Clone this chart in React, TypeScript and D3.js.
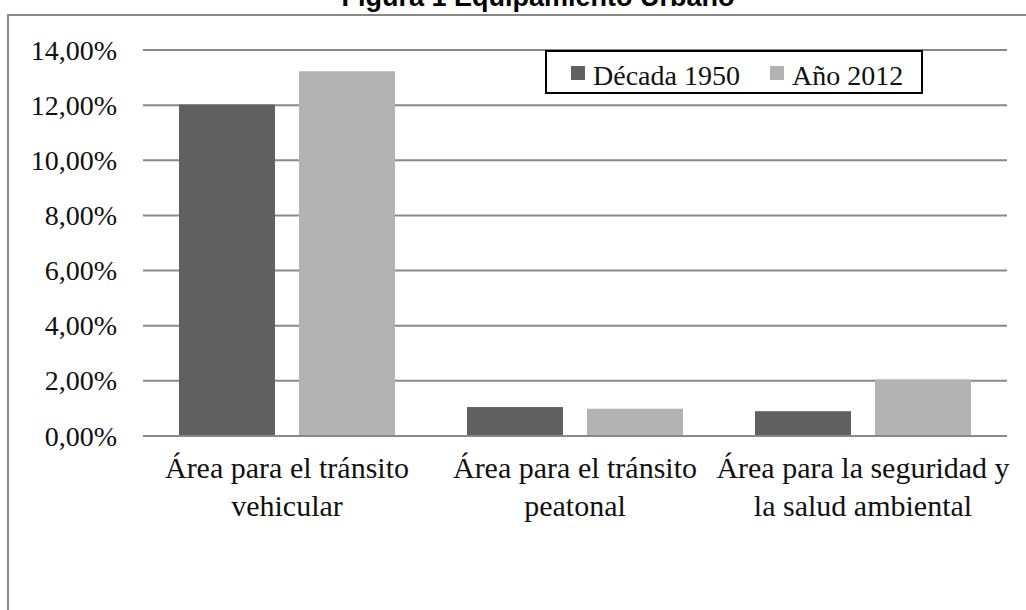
import * as d3 from 'd3'

const categories = ['vehicular', 'peatonal', 'ambiental']
const categoryLabels = [
  ['Área para el tránsito', 'vehicular'],
  ['Área para el tránsito', 'peatonal'],
  ['Área para la seguridad y', 'la salud ambiental'],
]
const seriesNames = ['Década 1950', 'Año 2012']
const decada1950 = [0.1202, 0.0105, 0.009]
const anio2012 = [0.1323, 0.0099, 0.0205]
const yTicks = [0, 0.02, 0.04, 0.06, 0.08, 0.1, 0.12, 0.14]
const colors = ['#606060', '#b3b3b3']
const title = 'Figura 1 Equipamiento Urbano'

export default function App() {
  const w = 1026
  const h = 610
  const serif = '"Liberation Serif", "Times New Roman", serif'

  const x0 = d3.scaleBand<string>()
    .domain(categories)
    .range([143, 1007])
    .paddingInner(0.25)
    .paddingOuter(0.125)

  const x1 = d3.scaleBand<string>()
    .domain(seriesNames)
    .range([0, x0.bandwidth()])
    .paddingInner(0.2)

  const y = d3.scaleLinear()
    .domain([0, 0.14])
    .range([436, 50])

  const locale = d3.formatLocale({ decimal: ',', thousands: '.', grouping: [3], currency: ['', '€'] })
  const fmt = locale.format('.2%')

  const series = [decada1950, anio2012]

  return (
    <svg width={w} height={h} style={{ position: 'absolute', left: 0, top: 0, background: '#fff' }}>
      {/* title, cut off at the top like the source */}
      <text x={538} y={6} textAnchor="middle" fontFamily="'Liberation Sans', Arial, sans-serif"
        fontWeight="bold" fontSize={27} fill="#000">{title}</text>

      {/* outer frame */}
      <path d={`M8,${h + 5} V15 H${w + 5}`} fill="none" stroke="#888" strokeWidth={2} />

      {/* gridlines */}
      {yTicks.map(t => (
        <line key={t} x1={143} x2={1007} y1={y(t)} y2={y(t)} stroke="#888" strokeWidth={2} />
      ))}

      {/* tick labels */}
      {yTicks.map(t => (
        <text key={'l' + t} x={117} y={y(t)} dy="0.34em" textAnchor="end"
          fontFamily={serif} fontSize={28} fill="#111">{fmt(t)}</text>
      ))}

      {/* bars */}
      {series.map((vals, si) => (
        <g key={si}>
          {categories.map((c, ci) => (
            <rect key={c}
              x={(x0(c) ?? 0) + (x1(seriesNames[si]) ?? 0)}
              y={y(vals[ci])}
              width={x1.bandwidth()}
              height={y(0) - y(vals[ci]) - 1}
              fill={colors[si]} />
          ))}
        </g>
      ))}

      {/* category labels */}
      {categories.map((c, ci) => (
        <text key={c} textAnchor="middle" fontFamily={serif} fontSize={30} fill="#111">
          {categoryLabels[ci].map((line, li) => (
            <tspan key={li} x={(x0(c) ?? 0) + x0.bandwidth() / 2} y={478 + li * 38}>{line}</tspan>
          ))}
        </text>
      ))}

      {/* legend */}
      <rect x={546} y={51} width={376} height={42} fill="#fff" stroke="#000" strokeWidth={2} />
      {seriesNames.map((s, i) => {
        const lx = i === 0 ? 571 : 770
        return (
          <g key={s}>
            <rect x={lx} y={66} width={14} height={14} fill={colors[i]} />
            <text x={lx + 22} y={85} fontFamily={serif} fontSize={28} fill="#111">{s}</text>
          </g>
        )
      })}
    </svg>
  )
}
